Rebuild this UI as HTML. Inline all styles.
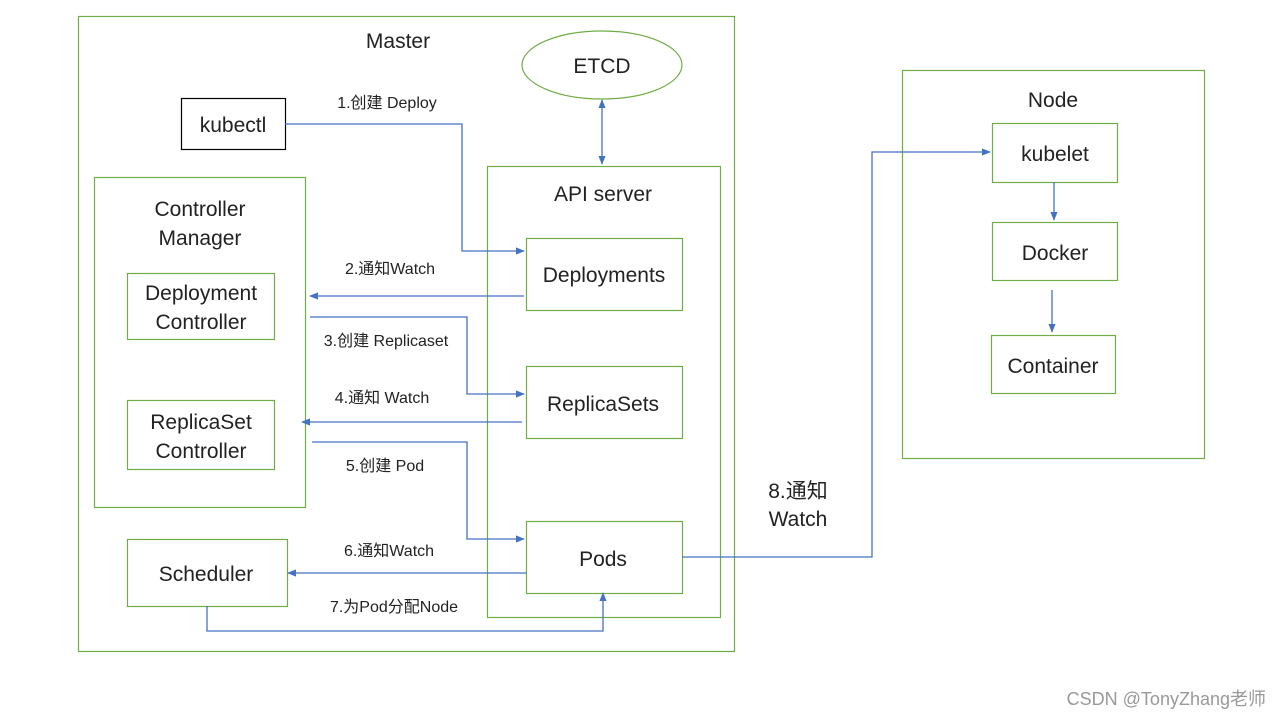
<!DOCTYPE html>
<html><head><meta charset="utf-8"><style>
body{margin:0;background:#fff}
svg{display:block}
text{font-family:"Liberation Sans","Noto Sans CJK SC",sans-serif;fill:#222}
.b{font-size:21px}
.s{font-size:16px}
</style></head><body>
<svg width="1280" height="720" xmlns="http://www.w3.org/2000/svg">
<defs><marker id="a" viewBox="0 0 10 10" refX="9" refY="5" markerWidth="7" markerHeight="7" orient="auto-start-reverse"><path d="M0,1 L10,5 L0,9 z" fill="#4472c4"/></marker></defs>
<g fill="none" stroke="#70ad47" stroke-width="1.2">
<rect x="78.5" y="16.5" width="656" height="635"/>
<ellipse cx="602" cy="65" rx="80" ry="34"/>
<rect x="487.5" y="166.5" width="233" height="451"/>
<rect x="94.5" y="177.5" width="211" height="330"/>
<rect x="127.5" y="273.5" width="147" height="66"/>
<rect x="127.5" y="400.5" width="147" height="69"/>
<rect x="127.5" y="539.5" width="160" height="67"/>
<rect x="526.5" y="238.5" width="156" height="72"/>
<rect x="526.5" y="366.5" width="156" height="72"/>
<rect x="526.5" y="521.5" width="156" height="72"/>
<rect x="902.5" y="70.5" width="302" height="388"/>
<rect x="992.5" y="123.5" width="125" height="59"/>
<rect x="992.5" y="222.5" width="125" height="58"/>
<rect x="991.5" y="335.5" width="124" height="58"/>
</g>
<rect x="181.5" y="98.5" width="104" height="51" fill="none" stroke="#000" stroke-width="1.2"/>
<g fill="none" stroke="#4472c4" stroke-width="1.3">
<path d="M602,100 V164" marker-start="url(#a)" marker-end="url(#a)"/>
<path d="M285,124 H462 V251 H524" marker-end="url(#a)"/>
<path d="M524,296 H310" marker-end="url(#a)"/>
<path d="M310,317 H467 V394 H524" marker-end="url(#a)"/>
<path d="M522,422 H302" marker-end="url(#a)"/>
<path d="M312,442 H467 V539 H524" marker-end="url(#a)"/>
<path d="M526,573 H288" marker-end="url(#a)"/>
<path d="M207,606 V631 H603 V593" marker-end="url(#a)"/>
<path d="M682,557 H872 V152 H990" marker-end="url(#a)"/>
<path d="M1054,182 V220" marker-end="url(#a)"/>
<path d="M1052,290 V332" marker-end="url(#a)"/>
</g>
<g class="b" text-anchor="middle">
<text x="398" y="48">Master</text>
<text x="602" y="73">ETCD</text>
<text x="233" y="132">kubectl</text>
<text x="603" y="201">API server</text>
<text x="200" y="216">Controller</text>
<text x="200" y="245">Manager</text>
<text x="201" y="300">Deployment</text>
<text x="201" y="329">Controller</text>
<text x="201" y="429">ReplicaSet</text>
<text x="201" y="458">Controller</text>
<text x="206" y="581">Scheduler</text>
<text x="604" y="282">Deployments</text>
<text x="603" y="411">ReplicaSets</text>
<text x="603" y="566">Pods</text>
<text x="1053" y="107">Node</text>
<text x="1055" y="161">kubelet</text>
<text x="1055" y="260">Docker</text>
<text x="1053" y="373">Container</text>
<text x="798" y="498">8.通知</text>
<text x="798" y="526">Watch</text>
</g>
<g class="s" text-anchor="middle">
<text x="387" y="108">1.创建 Deploy</text>
<text x="390" y="274">2.通知Watch</text>
<text x="386" y="346">3.创建 Replicaset</text>
<text x="382" y="403">4.通知 Watch</text>
<text x="385" y="471">5.创建 Pod</text>
<text x="389" y="556">6.通知Watch</text>
<text x="394" y="612">7.为Pod分配Node</text>
</g>
<text x="1266" y="705" text-anchor="end" style="font-size:18px;fill:#999">CSDN @TonyZhang老师</text>
</svg>
</body></html>
